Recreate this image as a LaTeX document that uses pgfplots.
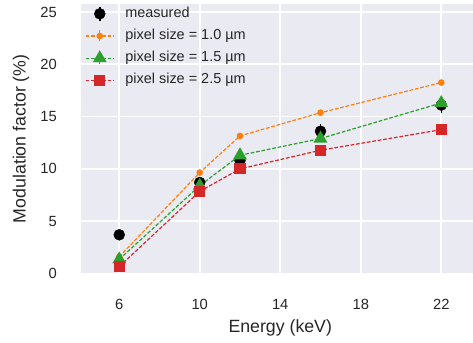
\documentclass[border=0pt]{standalone}
\usepackage{fontspec}
\setmainfont{Liberation Sans}
\usepackage{pgfplots}
\pgfplotsset{compat=1.18}
\definecolor{bg}{HTML}{EAEAF2}
\definecolor{txt}{HTML}{262626}
\definecolor{corange}{HTML}{FF7F0E}
\definecolor{cgreen}{HTML}{2CA02C}
\definecolor{cred}{HTML}{D62728}
\pgfplotsset{
  simleg/.style={legend image code/.code={
    \path[draw=none,fill=none] (0bp,-11.1bp) rectangle (28bp,11.1bp);
    \draw[solid,line width=1.2bp] (14bp,-5.5bp) -- (14bp,5.5bp);
    \draw[mark repeat=2,mark phase=2] plot coordinates {(0bp,0bp)(14bp,0bp)(28bp,0bp)};
  }},
  measleg/.style={legend image code/.code={
    \path[draw=none,fill=none] (0bp,-11.1bp) rectangle (28bp,11.1bp);
    \draw[solid,line width=1.5bp] (14bp,-7bp) -- (14bp,7bp);
    \draw plot coordinates {(14bp,0bp)};
  }},
}
\begin{document}
\begin{tikzpicture}
\begin{axis}[
  scale only axis, width=398.5bp, height=269.5bp,
  xmin=4.1, xmax=23.9, ymin=0, ymax=25.76,
  axis background/.style={fill=bg},
  axis line style={draw=none},
  grid=major, major grid style={white, line width=1.6bp},
  xtick={6,10,14,18,22}, ytick={0,5,10,15,20,25},
  major tick length=0pt,
  /pgf/number format/assume math mode=true,
  tick label style={font=\fontsize{14.8}{17}\selectfont, text=txt, inner sep=0pt},
  xticklabel style={anchor=center, yshift=-30.5bp},
  yticklabel style={anchor=east, xshift=-24bp},
  xlabel={Energy (keV)}, ylabel={Modulation factor (\%)},
  label style={font=\fontsize{17.8}{20}\selectfont, text=txt},
  xlabel style={at={(axis description cs:0.5,-0.2022)}, anchor=center},
  ylabel style={at={(axis description cs:-0.1506,0.5)}, anchor=center},
  legend style={draw=none, fill=none, at={(axis description cs:0.01,1)}, anchor=north west,
    yshift=1.5bp, inner sep=0pt, column sep=11bp, row sep=0pt,
    font=\fontsize{14.5}{16}\selectfont, text=txt,
    nodes={inner sep=0pt, text height=10bp, text depth=3bp}},
  legend cell align=left,
]
\addplot[only marks, black, mark=*, mark size=5.5bp, measleg,
  error bars/.cd, y dir=both, y explicit, error mark=none,
  error bar style={solid, line width=1.5bp}]
  table[x=x, y=y, y error=e] {
x y e
6 3.7 0.3
10 8.7 0.3
12 10.8 0.5
16 13.6 0.65
22 16.1 0.77
};
\addlegendentry{measured}
\addplot[corange, line width=1.2bp, dash pattern=on 3.7bp off 1.8bp, mark=*, mark size=2.7bp,
  mark options={solid}, simleg,
  error bars/.cd, y dir=both, y explicit, error mark=none,
  error bar style={solid, line width=1.2bp}]
  table[x=x, y=y, y error=e] {
x y e
6 1.6 0.15
10 9.65 0.15
12 13.15 0.15
16 15.37 0.15
22 18.25 0.15
};
\addlegendentry{pixel size = 1.0 µm}
\addplot[cgreen, line width=1.2bp, dash pattern=on 3.7bp off 1.8bp, mark=triangle*, mark size=6.8bp,
  mark options={solid}, simleg,
  error bars/.cd, y dir=both, y explicit, error mark=none,
  error bar style={solid, line width=1.2bp}]
  table[x=x, y=y, y error=e] {
x y e
6 1.35 0.15
10 8.4 0.15
12 11.3 0.15
16 12.9 0.15
22 16.3 0.15
};
\addlegendentry{pixel size = 1.5 µm}
\addplot[cred, line width=1.2bp, dash pattern=on 3.7bp off 1.8bp, mark=square*, mark size=5bp,
  mark options={solid}, simleg,
  error bars/.cd, y dir=both, y explicit, error mark=none,
  error bar style={solid, line width=1.2bp}]
  table[x=x, y=y, y error=e] {
x y e
6 0.65 0.15
10 7.85 0.15
12 10.0 0.15
16 11.78 0.15
22 13.75 0.15
};
\addlegendentry{pixel size = 2.5 µm}
\coordinate (sw) at (axis description cs:0,0);
\coordinate (ne) at (axis description cs:1,1);
\end{axis}
\pgfresetboundingbox
\path ([shift={(-81bp,-69.5bp)}]sw) rectangle ([shift={(-6.5bp,4bp)}]ne);
\end{tikzpicture}
\end{document}
